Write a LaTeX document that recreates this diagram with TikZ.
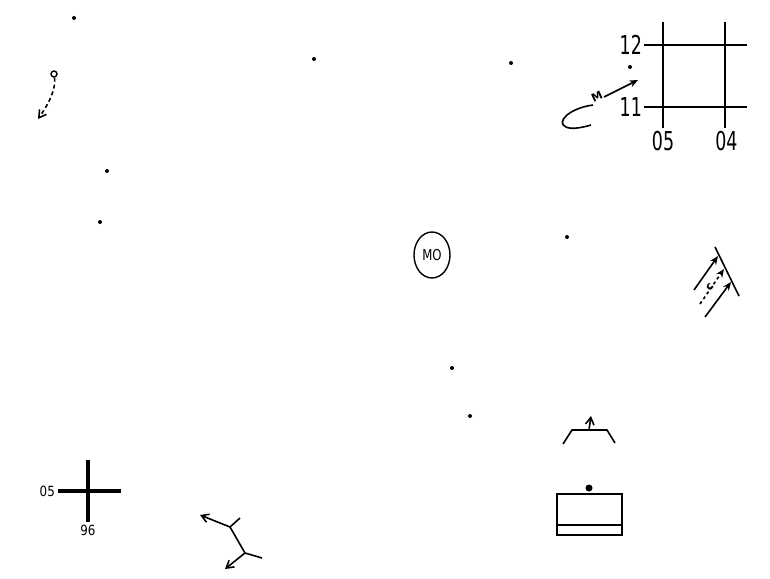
\documentclass[tikz,border=0pt]{standalone}
\usepackage{fontspec}
\setmainfont{DejaVu Sans}
\usetikzlibrary{arrows.meta,positioning,shapes.geometric}

\begin{document}
\begin{tikzpicture}[x=1pt, y=-1pt,
    every node/.style={font=\small, inner sep=0pt},
    pt/.style={circle, fill, minimum size=4pt, inner sep=0pt},
    ln/.style={line width=1.6pt},
    lbl/.style={font=\fontsize{26}{26}\selectfont, xscale=0.67},
    sml/.style={font=\fontsize{14}{14}\selectfont, xscale=0.85},
    e/.style={ln, -{Stealth[length=3mm, width=2.5mm]}},
    ea/.style={ln, -{Straight Barb[length=2.5mm, width=3mm]}},
  ]
  \useasboundingbox (0,0) rectangle (770,578);
  % loose dots
  \node[pt] (d1) at (74,18) {};
  \node[pt] (d2) at (314,59) {};
  \node[pt] (d3) at (511,63) {};
  \node[pt] (d4) at (630,67) {};
  \node[pt] (d5) at (107,171) {};
  \node[pt] (d6) at (100,222) {};
  \node[pt] (d7) at (567,237) {};
  \node[pt] (d8) at (452,368) {};
  \node[pt] (d9) at (470,416) {};
  % grid top right
  \coordinate (g1t) at (663,22);  \coordinate (g1b) at (663,128);
  \coordinate (g2t) at (725,22);  \coordinate (g2b) at (725,128);
  \coordinate (h1l) at (644,45);  \coordinate (h1r) at (747,45);
  \coordinate (h2l) at (644,107); \coordinate (h2r) at (747,107);
  \draw[ln] (g1t) -- (g1b);
  \draw[ln] (g2t) -- (g2b);
  \draw[ln] (h1l) -- (h1r);
  \draw[ln] (h2l) -- (h2r);
  \node[lbl, left=2pt of h1l] (r12) {12};
  \node[lbl, left=2pt of h2l] (r11) {11};
  \node[lbl, below=3pt of g1b] (c05) {05};
  \node[lbl, below=3pt of g2b, xshift=2pt] (c04) {04};
  % hook and arrow
  \coordinate (m0) at (604,97);
  \coordinate (m1) at (638,80);
  \draw[e] (m0) -- (m1);
  \node[font=\fontsize{11}{11}\selectfont\bfseries, rotate=25] (mm) at (597,97) {M};
  \draw[ln] (593,105) .. controls (570,108) and (555,122) .. (566,127)
            .. controls (572,130) and (584,127) .. (591,125);
  % top left circle with dashed arrow
  \node[circle, draw, line width=1.4pt, minimum size=6pt] (o1) at (54,74) {};
  \coordinate (o2) at (38,119);
  \draw[ea, dashed, dash pattern=on 4pt off 3pt] (o1) .. controls (56,88) and (50,102) .. (o2);
  % blob
  \node[draw, line width=1.4pt, ellipse, minimum width=36pt, minimum height=46pt] (mo) at (432,255) {};
  \node[font=\fontsize{15}{15}\selectfont, xscale=0.78] (motxt) at (mo) {MO};
  % hatched wall with arrows
  \coordinate (w1) at (715,247);
  \coordinate (w2) at (739,296);
  \draw[ln] (w1) -- (w2);
  \coordinate (a1s) at (694,290); \coordinate (a1e) at (718,256);
  \coordinate (a2s) at (700,304); \coordinate (a2e) at (724,269);
  \coordinate (a3s) at (705,317); \coordinate (a3e) at (731,282);
  \draw[e] (a1s) -- (a1e);
  \draw[e, dashed] (a2s) -- (a2e);
  \draw[e] (a3s) -- (a3e);
  \node[font=\fontsize{11}{11}\selectfont\bfseries, rotate=50] (cc) at (710,287) {c};
  % cross bottom left
  \coordinate (xt) at (88,460); \coordinate (xb) at (88,522);
  \coordinate (xl) at (58,491); \coordinate (xr) at (121,491);
  \draw[line width=3.5pt] (xt) -- (xb);
  \draw[line width=3.5pt] (xl) -- (xr);
  \node[sml, left=3pt of xl] (x05) {05};
  \node[sml, below=3pt of xb] (x96) {96};
  % branching arrows
  \coordinate (ba) at (230,527);
  \coordinate (bb) at (245,553);
  \coordinate (bt) at (240,518);
  \coordinate (br) at (262,558);
  \coordinate (bx) at (200,515);
  \coordinate (by) at (225,569);
  \draw[ln] (ba) -- (bb) -- (br);
  \draw[ln] (ba) -- (bt);
  \draw[ea] (ba) -- (bx);
  \draw[ea] (bb) -- (by);
  % trapezoid and box
  \coordinate (t1) at (563,444); \coordinate (t2) at (572,430);
  \coordinate (t3) at (607,430); \coordinate (t4) at (615,443);
  \draw[ln] (t1) -- (t2) -- (t3) -- (t4);
  \coordinate (tu) at (591,416);
  \draw[ea] (589,430) -- (tu);
  \node[pt, minimum size=7pt] (bdot) at (589,488) {};
  \node[draw, line width=1.8pt, minimum width=65pt, minimum height=41pt] (box) at (589.5,514.5) {};
  \draw[line width=1.8pt] (box.west |- 0,525) -- (box.east |- 0,525);
\end{tikzpicture}
\end{document}
